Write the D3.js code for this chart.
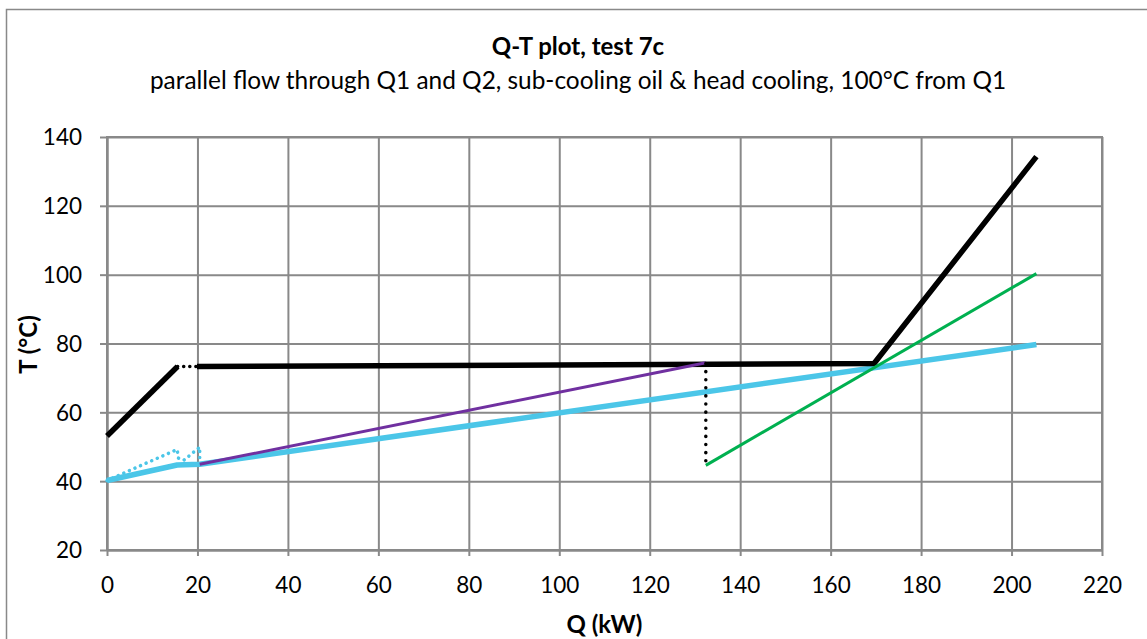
<!DOCTYPE html>
<html>
<head>
<meta charset="utf-8">
<script src="https://cdn.jsdelivr.net/npm/d3@7"></script>
<style>
  body { margin: 0; background: #fff; }
  svg text { font-family: Lato, "Open Sans", sans-serif; fill: #000; }
</style>
</head>
<body>
<div id="chart"></div>
<script>
// axis ticks
var xTicks = [0, 20, 40, 60, 80, 100, 120, 140, 160, 180, 200, 220];
var yTicks = [20, 40, 60, 80, 100, 120, 140];

// hot side (black)
var hotQ1 = [0, 15.6];
var hotT1 = [53.1, 73.3];
var hotGapQ = [15.6, 19.9];
var hotGapT = [73.3, 73.3];
var hotQ2 = [19.9, 169.6, 205.5];
var hotT2 = [73.3, 74.2, 134.3];

// cold side (light blue)
var coldQ = [0, 15.5, 20.5, 205.5];
var coldT = [40.2, 44.7, 44.9, 79.7];
var coldDotQ = [0, 15.5, 15.8, 17, 20.5, 20.5];
var coldDotT = [40.2, 49.2, 46.7, 46.1, 49.9, 45.2];

// sub-cooling oil (purple)
var oilQ = [20.5, 132.4];
var oilT = [44.9, 74.4];

// drop (black dotted)
var dropQ = [132.4, 132.4];
var dropT = [74.2, 45.2];

// head cooling (green)
var headQ = [132.4, 205.5];
var headT = [44.6, 100.3];

function pts(qs, ts) {
  return qs.map((q, i) => [q, ts[i]]);
}

var svg_width = 1147;
var svg_height = 639;
var margins = { top: 137, bottom: 89, left: 107, right: 45 };
var width = svg_width - margins.left - margins.right;
var height = svg_height - margins.top - margins.bottom;

var svg = d3.select("#chart")
  .append("svg")
  .attr("width", svg_width)
  .attr("height", svg_height);

// outer chart border
svg.append("rect")
  .attr("x", 6.5).attr("y", 9.5)
  .attr("width", 1160).attr("height", 660)
  .style("fill", "none")
  .style("stroke", "#898989")
  .style("stroke-width", 1.5);

// titles
svg.append("text")
  .attr("x", 578).attr("y", 55)
  .attr("text-anchor", "middle")
  .style("font-weight", "bold")
  .style("font-size", "24px")
  .text("Q-T plot, test 7c");

svg.append("text")
  .attr("x", 578).attr("y", 89)
  .attr("text-anchor", "middle")
  .style("font-size", "24.4px")
  .text("parallel flow through Q1 and Q2, sub-cooling oil & head cooling, 100°C from Q1");

var g = svg.append("g")
  .attr("transform", "translate(" + margins.left + "," + margins.top + ")");

var x = d3.scaleLinear().domain([0, 220]).range([0, width]);
var y = d3.scaleLinear().domain([20, 140]).range([height, 0]);

// gridlines
g.append("g")
  .attr("class", "grid")
  .call(d3.axisBottom(x).tickValues(xTicks).tickSize(height).tickFormat(""))
  .call(a => a.select(".domain").remove());
g.append("g")
  .attr("class", "grid")
  .call(d3.axisLeft(y).tickValues(yTicks).tickSize(-width).tickFormat(""))
  .call(a => a.select(".domain").remove());
g.selectAll(".grid line")
  .style("stroke", "#898989")
  .style("stroke-width", 2);

// axes
var xAxis = g.append("g")
  .attr("transform", "translate(0," + height + ")")
  .call(d3.axisBottom(x).tickValues(xTicks).tickSize(6).tickPadding(21).tickSizeOuter(0));
var yAxis = g.append("g")
  .call(d3.axisLeft(y).tickValues(yTicks).tickSize(7).tickPadding(18).tickSizeOuter(0));
g.selectAll(".domain, .tick line")
  .style("stroke", "#898989")
  .style("stroke-width", 2);
g.selectAll(".tick text")
  .style("font-family", "Lato, 'Open Sans', sans-serif")
  .style("font-size", "22.5px")
  .style("fill", "#000");
xAxis.selectAll(".tick text").attr("dy", "0.71em");
yAxis.selectAll(".tick text").attr("dy", "0.35em");

// right and top border of plot area
g.append("rect")
  .attr("width", width).attr("height", height)
  .style("fill", "none")
  .style("stroke", "#898989")
  .style("stroke-width", 2);

// axis titles
svg.append("text")
  .attr("x", margins.left + width / 2).attr("y", 633)
  .attr("text-anchor", "middle")
  .style("font-weight", "bold")
  .style("font-size", "24px")
  .text("Q (kW)");

svg.append("text")
  .attr("transform", "translate(37," + (margins.top + height / 2 + 1) + ") rotate(-90)")
  .attr("text-anchor", "middle")
  .style("font-weight", "bold")
  .style("font-size", "24px")
  .text("T (°C)");

var line = d3.line().x(d => x(d[0])).y(d => y(d[1]));

function drawLine(data, color, w, dash) {
  g.append("path")
    .datum(data)
    .attr("d", line)
    .style("fill", "none")
    .style("stroke", color)
    .style("stroke-width", w)
    .style("stroke-linecap", dash ? "round" : "butt")
    .style("stroke-linejoin", "round")
    .style("stroke-dasharray", dash || null);
}

drawLine(pts(coldDotQ, coldDotT), "#4bc6e8", 3.5, "0.1,6");
drawLine(pts(coldQ, coldT), "#4bc6e8", 5.5);
drawLine(pts(hotQ1, hotT1), "#000", 5.5);
drawLine(pts(hotGapQ, hotGapT), "#000", 3.5, "0.1,6");
drawLine(pts(hotQ2, hotT2), "#000", 5.5);
drawLine(pts(oilQ, oilT), "#7030a0", 3);
drawLine(pts(dropQ, dropT), "#000", 3.5, "0.1,8");
drawLine(pts(headQ, headT), "#00b050", 3);
</script>
</body>
</html>
